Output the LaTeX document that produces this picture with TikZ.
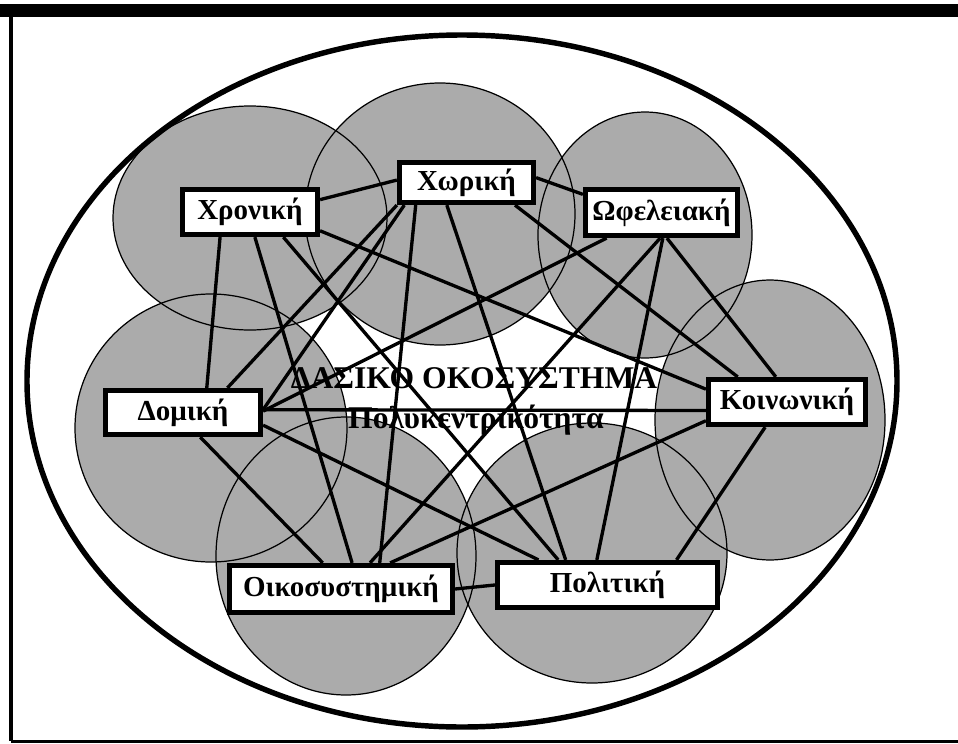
\documentclass[tikz,border=0pt]{standalone}
\usepackage{fontspec}
\setmainfont{Liberation Serif}
\usepackage{tikz}

\begin{document}
\begin{tikzpicture}[x=0.02cm,y=-0.02cm,
        sphere/.style={draw=black,line width=0.7pt},
        box/.style={draw,line width=2.7pt,fill=white,inner sep=0pt,font=\fontsize{16.5}{19}\selectfont\bfseries},
        headline/.style={anchor=base,font=\fontsize{18}{20}\selectfont\bfseries},
        link/.style={line width=1.9pt}]
        \useasboundingbox (0,0) rectangle (958,744);

        \draw[line width=0.26cm] (0,10) -- (958,10);
        \draw[line width=0.08cm] (11,10) -- (11,741);
        \draw[line width=0.06cm] (11,741) -- (958,741);

        \fill[black!33] (250,218) ellipse (137 and 112);
        \fill[black!33] (440,214) ellipse (135 and 131);
        \fill[black!33] (645,235) ellipse (107 and 123);
        \fill[black!33] (770,420) ellipse (115 and 140);
        \fill[black!33] (211,428) ellipse (136 and 134);
        \fill[black!33] (346,556) ellipse (130 and 139);
        \fill[black!33] (592,553) ellipse (135 and 130);

        \draw[sphere] (250,218) ellipse (137 and 112);
        \draw[sphere] (440,214) ellipse (135 and 131);
        \draw[sphere] (645,235) ellipse (107 and 123);
        \draw[sphere] (770,420) ellipse (115 and 140);
        \draw[sphere] (211,428) ellipse (136 and 134);
        \draw[sphere] (346,556) ellipse (130 and 139);
        \draw[sphere] (592,553) ellipse (135 and 130);

        \draw[line width=3.1pt] (462,381) ellipse (435 and 346);

        \node[headline] (title) at (474,388) {ΔΑΣΙΚΟ ΟΚΟΣΥΣΤΗΜΑ};
        \node[headline] (subtitle) at (476,428) {Πολυκεντρικότητα};

        \node[box,minimum width=2.71cm,minimum height=0.91cm] (chron) at (250,212) {Χρονική};
        \node[box,minimum width=2.69cm,minimum height=0.81cm] (chor) at (466.5,182.5) {Χωρική};
        \node[box,minimum width=3.05cm,minimum height=0.93cm] (ofel) at (661.5,212.5) {Ωφελειακή};
        \node[box,minimum width=3.15cm,minimum height=0.91cm] (koin) at (787,402) {Κοινωνική};
        \node[box,minimum width=3.11cm,minimum height=0.89cm] (dom) at (183,412.5) {Δομική};
        \node[box,minimum width=4.47cm,minimum height=0.95cm] (oikos) at (341,589) {Οικοσυστημική};
        \node[box,minimum width=4.41cm,minimum height=0.91cm] (polit) at (607.5,585) {Πολιτική};

        \draw[link] (chron.10) -- (chor.178);
        \draw[link] (chron.-140) -- (dom.46);
        \draw[link] (chron.-79) -- (oikos.67);
        \draw[link] (chron.-37) -- (polit.153);
        \draw[link] (chron.-15) -- (koin.171);

        \draw[link] (chor.4) -- (ofel.167);
        \draw[link] (chor.south west) -- (dom.29);
        \draw[link] (chor.-160) -- (dom.2);
        \draw[link] (chor.-156) -- (oikos.34);
        \draw[link] (chor.-131) -- (polit.149);
        \draw[link] (chor.-25) -- (koin.153);

        \draw[link] (ofel.-155) -- (dom.1);
        \draw[link] (ofel.-93) -- (oikos.42);
        \draw[link] (ofel.-87) -- (polit.113);
        \draw[link] (ofel.-78) -- (koin.114);

        \draw[link] (dom.2) -- (koin.-174);
        \draw[link] (dom.-55) -- (oikos.125);
        \draw[link] (dom.-9) -- (polit.160);

        \draw[link] (oikos.28) -- (koin.-167);
        \draw[link] (oikos.east) -- (polit.west);

        \draw[link] (koin.-131) -- (polit.20);

    \end{tikzpicture}
\end{document}
